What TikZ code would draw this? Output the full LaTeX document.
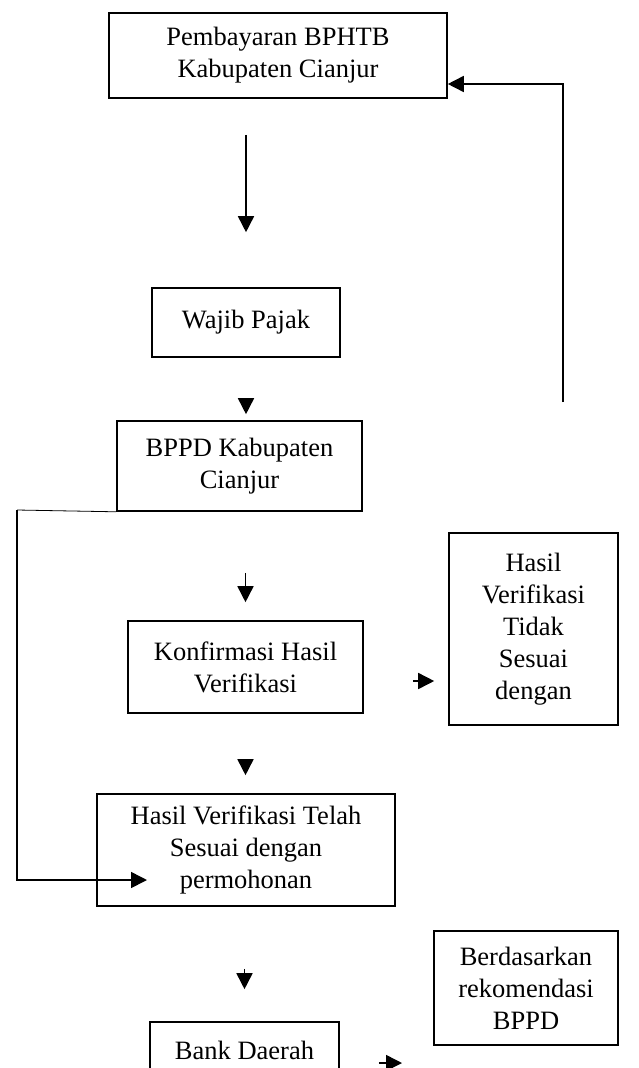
\documentclass[tikz,border=0pt]{standalone}
\usepackage{fontspec}
\setmainfont{Liberation Serif}
\usetikzlibrary{arrows.meta, positioning, calc}

\begin{document}
\begin{tikzpicture}[
  x=1pt, y=-1pt,
  every node/.style={font=\fontsize{26.5}{32}\selectfont},
  box/.style={rectangle, draw, line width=1.6pt, align=center, inner sep=0pt},
  arr/.style={-{Triangle[length=16pt, width=16pt]}, line width=1.6pt},
]
\useasboundingbox (0,0) rectangle (638,1068);
\clip (0,0) rectangle (638,1068);

% Main column
\node[box, minimum width=338pt, minimum height=85pt] (pay) at (278,55.5) {Pembayaran BPHTB\\Kabupaten Cianjur};
\node[box, minimum width=188pt, minimum height=69pt] (wajib) at (246,322.5) {Wajib Pajak};
\node[box, minimum width=245pt, minimum height=90pt] (bppd) at (239.5,466) {BPPD Kabupaten\\Cianjur};
\node[box, minimum width=235pt, minimum height=92pt] (konf) at (245.5,667) {Konfirmasi Hasil\\Verifikasi};
\node[box, minimum width=298pt, minimum height=112pt] (telah) at (246,850) {Hasil Verifikasi Telah\\Sesuai dengan\\permohonan};
\node[box, minimum width=189pt, minimum height=56pt] (bank) at (244.5,1050) {Bank Daerah};

% Side boxes
\node[box, minimum width=169pt, minimum height=192pt] (tidak) at (533.5,629) {Hasil\\Verifikasi\\Tidak\\Sesuai\\dengan};
\node[box, minimum width=184pt, minimum height=114pt] (berd) at (526,988) {Berdasarkan\\rekomendasi\\BPPD};

% Free ends
\coordinate (fbfoot) at (563,402);
\coordinate (loopcorner) at (17,510);
\coordinate (loopin) at (147,880);
\coordinate (bankto) at (402,1063);

% Connections
\draw[arr, shorten <=36pt, shorten >=55pt] (wajib.north |- pay.south) -- (wajib.north);
\draw[arr, shorten <=43pt, shorten >=6pt] (wajib.south) -- (wajib.south |- bppd.north);
\draw[arr, shorten <=61pt, shorten >=18pt] (konf.north |- bppd.south) -- (konf.north);
\draw[arr, shorten <=47pt, shorten >=18pt] (konf.south) -- (konf.south |- telah.north);
\draw[arr, shorten <=62pt, shorten >=32pt] (bank.north |- telah.south) -- (bank.north);
\draw[arr, shorten <=49pt, shorten >=14pt] ([yshift=-14pt]konf.east) -- ([yshift=-14pt]konf.east -| tidak.west);
\draw[arr, shorten <=39pt] ([yshift=-13pt]bank.east) -- (bankto);

% Feedback and loop
\draw[arr] (fbfoot) |- ([yshift=-28.5pt]pay.east);
\draw[line width=0.8pt] (bppd.south west) -- (loopcorner);
\draw[arr] (loopcorner) |- (loopin);

\end{tikzpicture}
\end{document}
